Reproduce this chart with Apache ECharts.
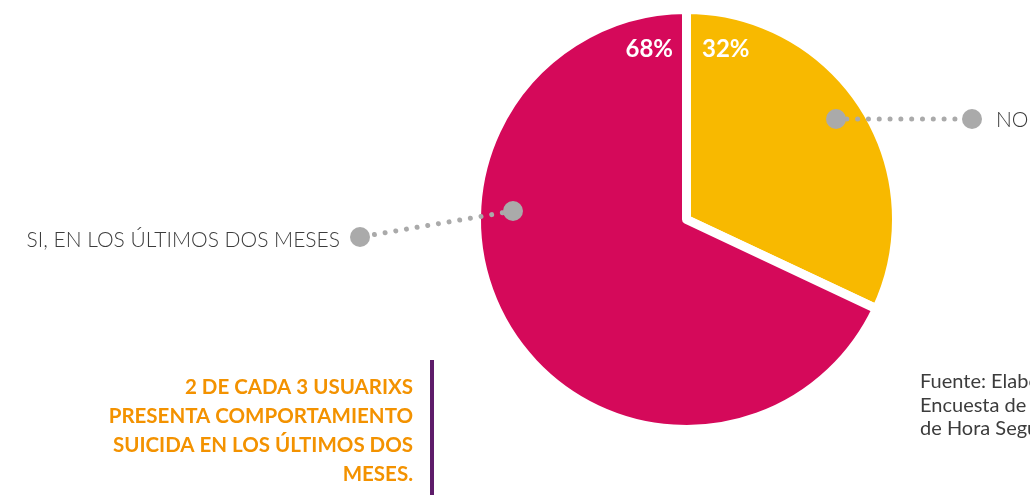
<!DOCTYPE html>
<html>
<head>
<meta charset="utf-8">
<script src="https://cdn.jsdelivr.net/npm/echarts@6/dist/echarts.min.js"></script>
<style>
  html, body { margin: 0; padding: 0; background: #fff; }
  #chart { width: 1030px; height: 495px; }
</style>
</head>
<body>
<div id="chart"></div>
<script>
// datos del gráfico (porcentaje)
var categories = ['NO', 'SI, EN LOS ÚLTIMOS DOS MESES'];
var values = [32, 68];
var colors = ['#f8b900', '#d5095a'];

var headline = ['2 DE CADA 3 USUARIXS', 'PRESENTA COMPORTAMIENTO', 'SUICIDA EN LOS ÚLTIMOS DOS', 'MESES.'];
var source = ['Fuente: Elaboración propia en base a la', 'Encuesta de usuarixs de la línea', 'de Hora Segura'];

var total = values.reduce(function (a, b) { return a + b; }, 0);
function pct(v) { return Math.round(v / total * 100) + '%'; }

var gray = '#aaaaaa';
var labelFont = '300 21px Lato, "Open Sans", sans-serif';

function txt(x, y, text, font, fill, align) {
  return {
    type: 'text', x: x, y: y, z: 100, silent: true,
    style: { text: text, font: font, fill: fill, textAlign: align, align: align, textVerticalAlign: 'middle', verticalAlign: 'middle' }
  };
}
function dotted(points) {
  return {
    type: 'polyline', z: 100, silent: true,
    shape: { points: points },
    style: { stroke: gray, lineWidth: 5, lineDash: [0.01, 10.8], lineCap: 'round', fill: null }
  };
}
function dot(x, y) {
  return { type: 'circle', z: 101, silent: true, shape: { cx: x, cy: y, r: 10 }, style: { fill: gray } };
}

var graphics = [
  // leader NO
  dotted([[836, 119], [972, 119]]),
  dot(836, 119), dot(972, 119),
  txt(996, 120, categories[0], labelFont, '#3c3c3c', 'left'),
  // leader SI
  dotted([[513, 211], [360, 237]]),
  dot(513, 211), dot(360, 237),
  txt(340, 240, categories[1], labelFont, '#3c3c3c', 'right'),
  // porcentajes
  txt(673, 49, pct(values[1]), 'bold 24px Lato, sans-serif', '#fff', 'right'),
  txt(702, 49, pct(values[0]), 'bold 24px Lato, sans-serif', '#fff', 'left'),
  // barra morada
  { type: 'rect', z: 100, silent: true, shape: { x: 430, y: 360, width: 4, height: 140 }, style: { fill: '#5e1c6a' } }
];
headline.forEach(function (line, i) {
  graphics.push(txt(413, 387 + i * 29, line, 'bold 20.5px Lato, sans-serif', '#f39200', 'right'));
});
source.forEach(function (line, i) {
  graphics.push(txt(920, 382 + i * 23.5, line, '20px Lato, sans-serif', '#3c3c3c', 'left'));
});

var chart = echarts.init(document.getElementById('chart'));
chart.setOption({
  animation: false,
  backgroundColor: '#fff',
  series: [{
    type: 'pie',
    center: [686.5, 219.5],
    radius: 210,
    startAngle: 90,
    clockwise: true,
    silent: true,
    z: 2,
    label: { show: false },
    labelLine: { show: false },
    itemStyle: { borderColor: '#fff', borderWidth: 9 },
    emphasis: { disabled: true },
    data: categories.map(function (c, i) {
      return { name: c, value: values[i], itemStyle: { color: colors[i] } };
    })
  }],
  graphic: graphics
});
</script>
</body>
</html>
